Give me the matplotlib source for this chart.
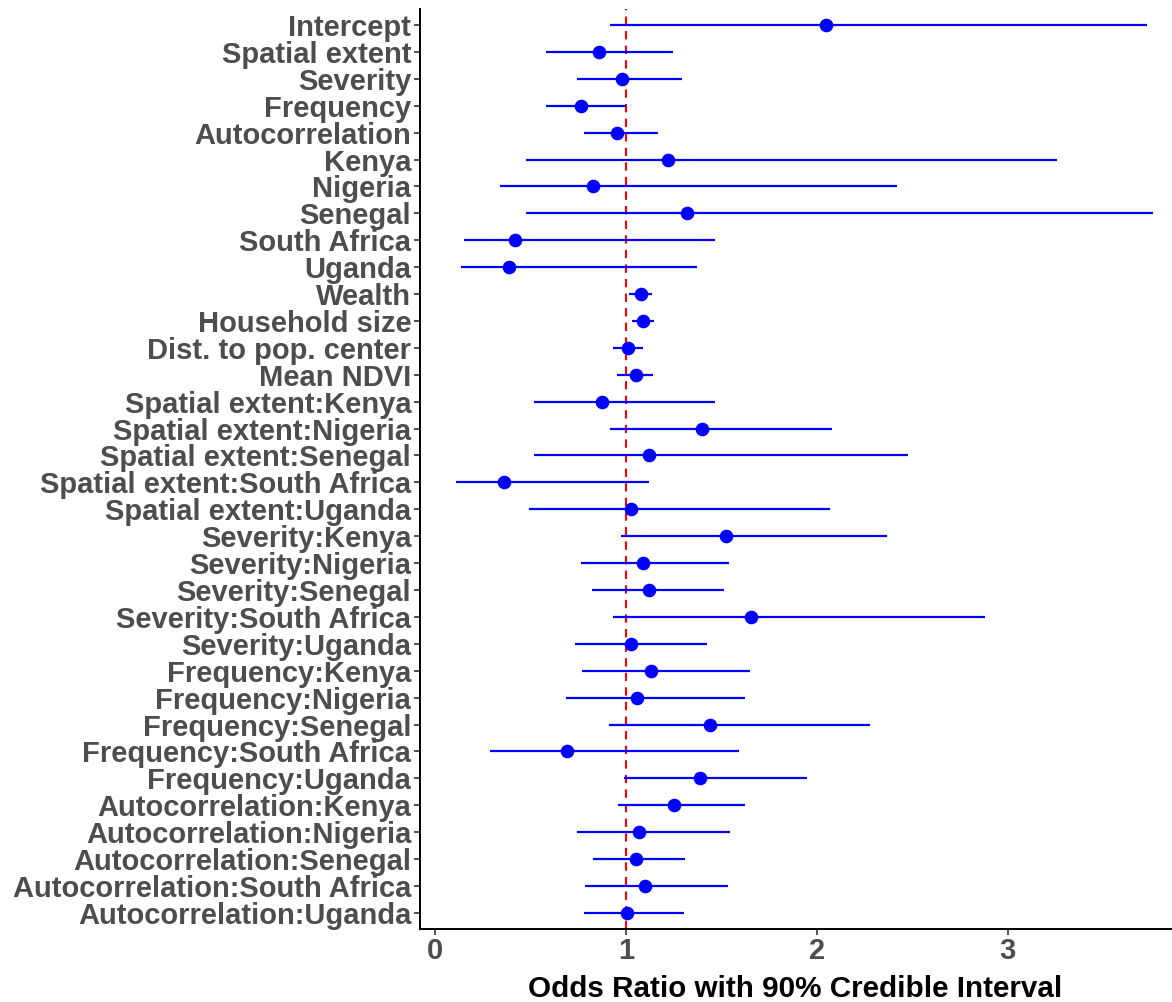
import numpy as np
import matplotlib.pyplot as plt

terms = ["Intercept", "Spatial extent", "Severity", "Frequency", "Autocorrelation",
         "Kenya", "Nigeria", "Senegal", "South Africa", "Uganda",
         "Wealth", "Household size", "Dist. to pop. center", "Mean NDVI",
         "Spatial extent:Kenya", "Spatial extent:Nigeria", "Spatial extent:Senegal",
         "Spatial extent:South Africa", "Spatial extent:Uganda",
         "Severity:Kenya", "Severity:Nigeria", "Severity:Senegal",
         "Severity:South Africa", "Severity:Uganda",
         "Frequency:Kenya", "Frequency:Nigeria", "Frequency:Senegal",
         "Frequency:South Africa", "Frequency:Uganda",
         "Autocorrelation:Kenya", "Autocorrelation:Nigeria", "Autocorrelation:Senegal",
         "Autocorrelation:South Africa", "Autocorrelation:Uganda"]

odds = [2.05, 0.86, 0.98, 0.767, 0.956,
        1.223, 0.828, 1.32, 0.421, 0.39,
        1.079, 1.091, 1.012, 1.051,
        0.875, 1.398, 1.121, 0.361, 1.025,
        1.525, 1.091, 1.121, 1.656, 1.03,
        1.132, 1.058, 1.439, 0.691, 1.388,
        1.254, 1.07, 1.051, 1.102, 1.007]

lower = [0.92, 0.58, 0.745, 0.58, 0.78,
         0.48, 0.342, 0.475, 0.153, 0.139,
         1.017, 1.035, 0.935, 0.956,
         0.517, 0.916, 0.517, 0.109, 0.491,
         0.977, 0.767, 0.823, 0.935, 0.732,
         0.772, 0.689, 0.914, 0.289, 0.989,
         0.96, 0.745, 0.828, 0.786, 0.781]

upper = [3.73, 1.25, 1.295, 1.003, 1.17,
         3.26, 2.42, 3.76, 1.47, 1.372,
         1.137, 1.147, 1.091, 1.144,
         1.465, 2.08, 2.48, 1.123, 2.07,
         2.37, 1.54, 1.516, 2.88, 1.428,
         1.649, 1.623, 2.28, 1.593, 1.95,
         1.623, 1.547, 1.312, 1.537, 1.305]

plt.rcParams["font.family"] = ["Liberation Sans", "DejaVu Sans"]

fig = plt.figure(figsize=(11.72, 10.02), dpi=100)
ax = fig.add_axes([0.358, 0.0729, 0.641, 0.9182])

y = np.arange(len(terms))[::-1]
ax.axvline(1, color="red", linestyle=(0, (4, 3)), linewidth=1.5, zorder=1)
ax.hlines(y, lower, upper, color="blue", linewidth=1.6, zorder=2)
ax.plot(odds, y, "o", color="blue", markersize=8.8, zorder=3)

ax.set_xlim(-0.08, 3.855)
ax.set_ylim(-0.6, len(terms) - 0.4)
ax.set_yticks(y)
ax.set_yticklabels(terms)
ax.set_xticks([0, 1, 2, 3])
ax.set_xlabel("Odds Ratio with 90% Credible Interval", fontsize=21.3,
              fontweight="bold", color="black", labelpad=7)

for lab in ax.get_yticklabels() + ax.get_xticklabels():
    lab.set_fontweight("bold")
    lab.set_fontsize(21)
    lab.set_color("#4D4D4D")

ax.tick_params(axis="both", length=4, width=1.2, color="#333333", pad=2)
for s in ["top", "right"]:
    ax.spines[s].set_visible(False)
for s in ["left", "bottom"]:
    ax.spines[s].set_linewidth(1.4)
    ax.spines[s].set_color("black")

fig.savefig("out.png", dpi=100)
